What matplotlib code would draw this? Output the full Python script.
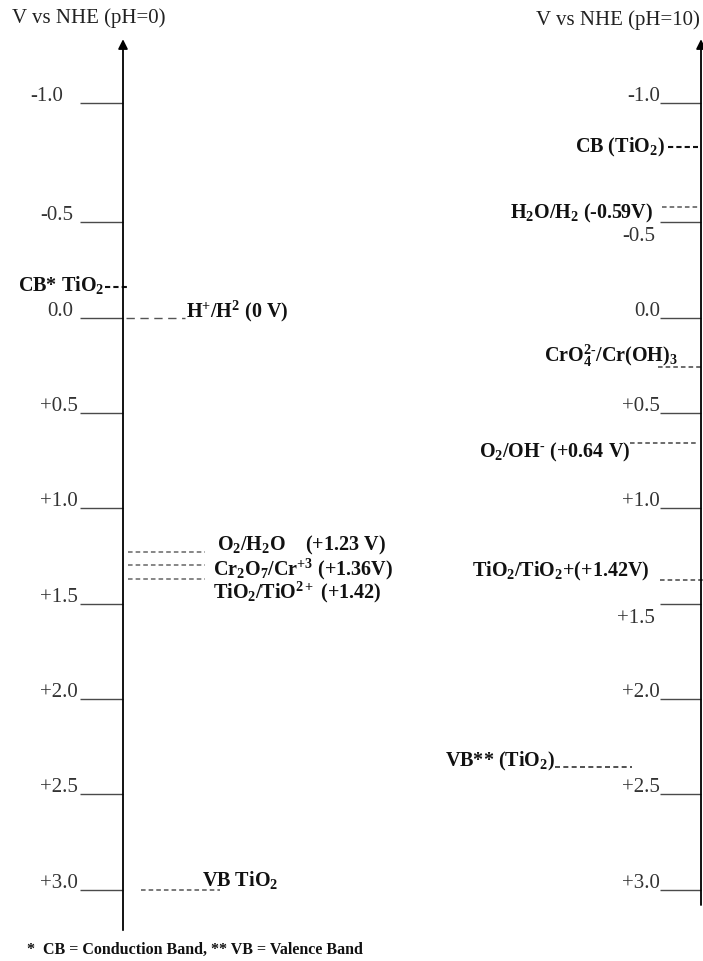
import numpy as np
import matplotlib
matplotlib.use('Agg')
import matplotlib.pyplot as plt

plt.rcParams.update({
    'font.family': 'Liberation Serif',
    'mathtext.fontset': 'custom',
    'mathtext.rm': 'Liberation Serif',
    'mathtext.it': 'Liberation Serif:italic',
    'mathtext.bf': 'Liberation Serif:bold',
})

# potential scale (V vs NHE)
tick_values = [-1.0, -0.5, 0.0, 0.5, 1.0, 1.5, 2.0, 2.5, 3.0]
tick_labels = ['-1.0', '-0.5', '0.0', '+0.5', '+1.0', '+1.5', '+2.0', '+2.5', '+3.0']

# pH = 0 side
left_levels = [-0.16, 0.0, 1.23, 1.30, 1.37, 3.0]
left_names = [
    r'CB* TiO$_\mathbf{2}$',
    r'H$^\mathbf{+}$/H$^\mathbf{2}$ (0 V)',
    r'O$_\mathbf{2}$/H$_\mathbf{2}$O    (+1.23 V)',
    r'Cr$_\mathbf{2}$O$_\mathbf{7}$/Cr$^\mathbf{+3}$ (+1.36V)',
    r'TiO$_\mathbf{2}$/TiO$^\mathbf{2+}$ (+1.42)',
    r'VB TiO$_\mathbf{2}$',
]

# pH = 10 side
right_levels = [-0.815, -0.563, 0.26, 0.656, 1.375, 2.356]
right_names = [
    r'CB (TiO$_\mathbf{2}$)',
    r'H$_\mathbf{2}$O/H$_\mathbf{2}$ (-0.59V)',
    r'CrO$_\mathbf{4}^\mathbf{2{\text{-}}}$/Cr(OH)$_\mathbf{3}$',
    r'O$_\mathbf{2}$/OH$^\mathbf{{\text{-}}}$ (+0.64 V)',
    r'TiO$_\mathbf{2}$/TiO$_\mathbf{2}$+(+1.42V)',
    r'VB** (TiO$_\mathbf{2}$)',
]

# layout: dash extents, label anchor, alignment, pixel offset, dash style
left_dash = [(105, 128), (126, 185), (128, 205), (128, 205), (128, 205), (141, 220)]
left_text = [(104, 'right', 2), (186, 'left', 6), (217, 'left', 7), (213, 'left', -4), (213, 'left', -14), (202, 'left', 10)]
left_style = [('#111111', 1.5, (0, (2.5, 1.5))), ('#555555', 1.0, (0, (6, 4))),
              ('#666666', 1.1, (0, (3, 2))), ('#666666', 1.1, (0, (3, 2))),
              ('#666666', 1.1, (0, (3, 2))), ('#555555', 1.1, (0, (3, 2)))]
right_dash = [(668, 698), (662, 698), (658, 701), (630, 698), (660, 703), (555, 632)]
right_text = [(665, 'right', 0), (653, 'right', -6), (678, 'right', 11), (630, 'right', -10), (650, 'right', 8), (555, 'right', 5)]
right_style = [('#111111', 1.5, (0, (2.5, 1.5))), ('#555555', 1.1, (0, (3, 2))),
               ('#444444', 1.1, (0, (3, 2))), ('#444444', 1.1, (0, (3, 2))),
               ('#444444', 1.1, (0, (3, 2))), ('#333333', 1.2, (0, (3, 2)))]

# the diagram is stretched above -0.5 V
STRETCH = 1.2487


def fwd(v):
    v = np.asarray(v, dtype=float)
    return np.where(v < -0.5, -0.5 + (v + 0.5) * STRETCH, v)


def inv(p):
    p = np.asarray(p, dtype=float)
    return np.where(p < -0.5, -0.5 + (p + 0.5) / STRETCH, p)


fig = plt.figure(figsize=(7.03, 9.61), dpi=100)
ax = fig.add_axes([0, 0, 1, 1])
ax.set_yscale('function', functions=(fwd, inv))
ax.set_xlim(0, 703)
ax.set_ylim(3.374, -1.433)
ax.axis('off')

line_col = '#4a4a4a'
fs_tick = 15
fs_lab = 14.5

# vertical axes with arrows
ax.annotate('', xy=(123, -1.28), xytext=(123, 3.227),
            arrowprops=dict(arrowstyle='-|>', color='black', lw=1.3, mutation_scale=14))
ax.annotate('', xy=(701, -1.28), xytext=(701, 3.095),
            arrowprops=dict(arrowstyle='-|>', color='black', lw=1.3, mutation_scale=14))

# tick lines and labels
left_lx = [63, 73, 73, 78, 78, 78, 78, 78, 78]
ax.hlines(tick_values, 80, 123, color=line_col, lw=1)
for v, lab, lx in zip(tick_values, tick_labels, left_lx):
    ax.annotate(lab, (lx, v), xytext=(0, 2), textcoords='offset pixels',
                ha='right', va='baseline', fontsize=fs_tick, color='#333333')

ax.hlines(tick_values, 660, 701, color=line_col, lw=1)
for v, lab in zip(tick_values, tick_labels):
    if lab in ('-0.5', '+1.5'):
        ax.annotate(lab, (655, v), xytext=(0, -5), textcoords='offset pixels',
                    ha='right', va='top', fontsize=fs_tick, color='#333333')
    else:
        ax.annotate(lab, (660, v), xytext=(0, 2), textcoords='offset pixels',
                    ha='right', va='baseline', fontsize=fs_tick, color='#333333')

# redox / band levels
for v, name, (x0, x1), (tx, ha, dy), (c, lw, ls) in zip(left_levels, left_names, left_dash,
                                                        left_text, left_style):
    ax.plot([x0, x1], [v, v], ls=ls, color=c, lw=lw)
    ax.annotate(name, (tx, v), xytext=(0, dy), textcoords='offset pixels',
                ha=ha, va='center', fontsize=fs_lab, fontweight='bold', color='#111111')

for v, name, (x0, x1), (tx, ha, dy), (c, lw, ls) in zip(right_levels, right_names, right_dash,
                                                        right_text, right_style):
    ax.plot([x0, x1], [v, v], ls=ls, color=c, lw=lw)
    ax.annotate(name, (tx, v), xytext=(0, dy), textcoords='offset pixels',
                ha=ha, va='center', fontsize=fs_lab, fontweight='bold', color='#111111')

# headers and footnote
fig.text(12 / 703, 1 - 18 / 961, 'V vs NHE (pH=0)', ha='left', va='center', fontsize=15, color='#222222')
fig.text(700 / 703, 1 - 20 / 961, 'V vs NHE (pH=10)', ha='right', va='center', fontsize=15, color='#222222')
fig.text(27 / 703, 1 - 950 / 961, '*  CB = Conduction Band, ** VB = Valence Band',
         ha='left', va='center', fontsize=11.5, fontweight='bold', color='#111111')

fig.savefig('out.png', dpi=100)
